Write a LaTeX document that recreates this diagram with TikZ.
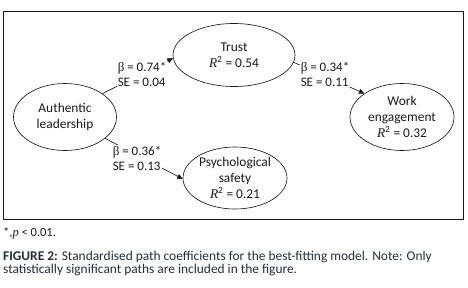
\documentclass[tikz,border=0pt]{standalone}
\usepackage{fontspec}
\setmainfont{Carlito}
\newfontfamily\serifFig{Liberation Serif}
\usepackage{tikz}
\usetikzlibrary{shapes.geometric,arrows.meta}
\definecolor{encreFig}{RGB}{25,25,25}
\definecolor{encreLegende}{RGB}{35,45,60}
\newcommand{\rdeux}{{\serifFig\itshape R}\textsuperscript{2}}
\newcommand{\betaFig}{{\serifFig β}}

\begin{document}
\begin{tikzpicture}[x=1pt, y=-1pt, font=\fontsize{13.4}{16}\selectfont, text=encreFig,
  construit/.style={draw=encreFig, line width=0.65pt, ellipse, align=center, inner sep=0pt},
  chemin/.style={draw=encreFig, line width=0.65pt, -{Triangle[length=5.5pt,width=5pt]}},
  coeff/.style={fill=white, align=left, inner sep=1pt, font=\fontsize{13}{15}\selectfont}]

\useasboundingbox (0,0) rectangle (468,287);
\draw[encreFig, line width=0.65pt] (3,11) rectangle (463,219);

\node[construit, minimum width=103pt, minimum height=67pt] (lead) at (65,117) {Authentic\\leadership};
\node[construit, minimum width=122pt, minimum height=63pt] (trust) at (234,55) {Trust\\\rdeux{} = 0.54};
\node[construit, minimum width=104pt, minimum height=67pt] (work) at (402,117) {Work\\engagement\\\rdeux{} = 0.32};
\node[construit, minimum width=104pt, minimum height=62pt] (safe) at (235,178) {Psychological\\safety\\\rdeux{} = 0.21};

\draw[chemin] (lead.32) -- (trust.183);
\draw[chemin] (trust.-7) -- (work.148);
\draw[chemin] (lead.-28) -- (safe.181);

\node[coeff] (c1) at (142,74) {\betaFig{} = 0.74*\\SE = 0.04};
\node[coeff] (c2) at (325,74) {\betaFig{} = 0.34*\\SE = 0.11};
\node[coeff] (c3) at (137,158) {\betaFig{} = 0.36*\\SE = 0.13};

\node[anchor=west, inner sep=0pt, font=\fontsize{12.5}{14}\selectfont] (note) at (3,233) {*,{\serifFig\itshape p} < 0.01.};
\node[anchor=north west, inner sep=0pt, align=left, text=encreLegende,
      font=\fontsize{13.4}{13.4}\selectfont] (legende) at (3,251)
  {\textbf{FIGURE 2:} Standardised path coefficients for the best-fitting model. Note: Only\\statistically significant paths are included in the figure.};

\end{tikzpicture}
\end{document}
